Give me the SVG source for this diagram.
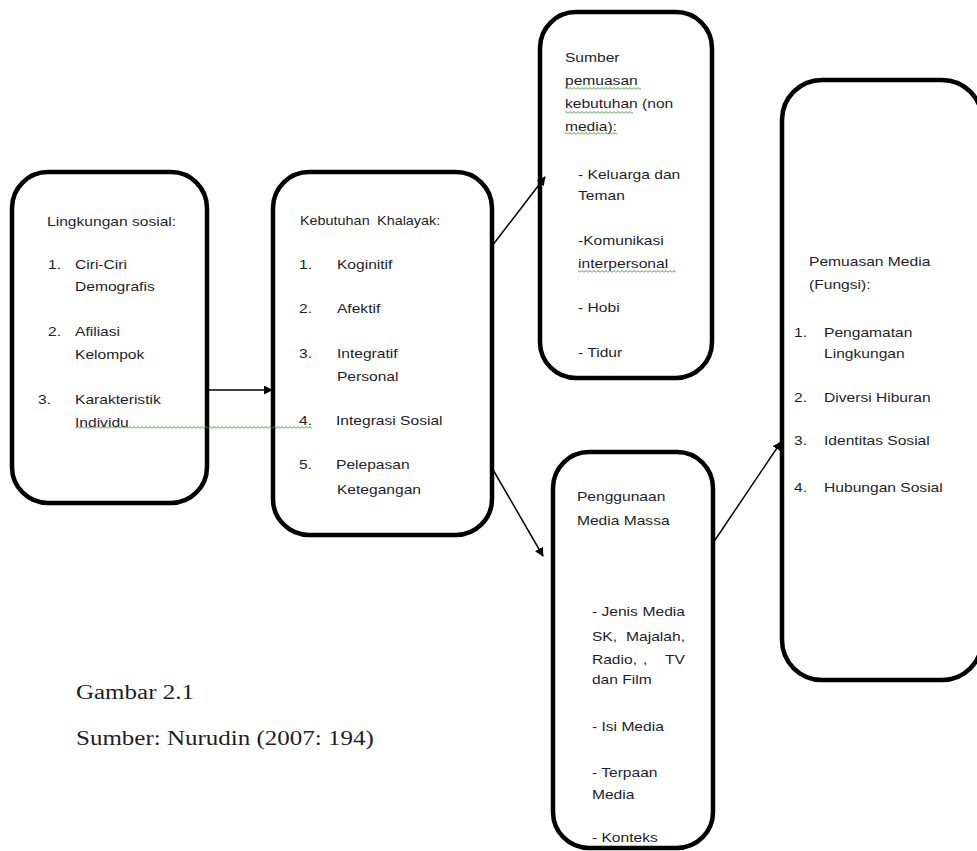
<svg xmlns="http://www.w3.org/2000/svg" width="977" height="851" viewBox="0 0 977 851">
<style>
.box{fill:#fff;stroke:#000;stroke-width:4.5}
.t{font-family:"Liberation Sans",Arial,sans-serif;font-size:13px;fill:#1e1e2a}
.s{font-size:12px}
.e{text-anchor:end}
.cap{font-family:"Liberation Serif","Times New Roman",serif;font-size:20px;fill:#1e1e2a}
.ln{stroke:#000;stroke-width:1.5;fill:none}
</style>
<defs>
<marker id="ah" viewBox="0 0 10 10" refX="9" refY="5" markerWidth="9" markerHeight="9" markerUnits="userSpaceOnUse" orient="auto">
<path d="M0,0 L10,5 L0,10 z" fill="#000"/>
</marker>
<pattern id="zz" x="0" y="0" width="4" height="3" patternUnits="userSpaceOnUse">
<path d="M0,2.5 L2,0.5 L4,2.5" stroke="#3a9a3a" stroke-width="1" fill="none"/>
</pattern>
</defs>
<rect width="977" height="851" fill="#fff"/>
<g id="n1">
<rect class="box" x="12" y="172" width="195" height="331" rx="36"/>
<g transform="scale(1.2,1)">
<text class="t" x="39.2" y="226">Lingkungan sosial:</text>
<text class="t" x="40" y="269">1.</text><text class="t" x="62.5" y="269">Ciri-Ciri</text>
<text class="t" x="62.5" y="291">Demografis</text>
<text class="t" x="40" y="336">2.</text><text class="t" x="62.5" y="336">Afiliasi</text>
<text class="t" x="62.5" y="359">Kelompok</text>
<text class="t" x="31.7" y="404">3.</text><text class="t" x="62.5" y="404">Karakteristik</text>
<text class="t" x="62.5" y="427">Individu</text>
</g>
</g>
<g id="n2">
<rect class="box" x="273" y="172" width="219" height="363" rx="36"/>
<g transform="scale(1.2,1)">
<text class="t s" x="250" y="225">Kebutuhan</text><text class="t s" x="314.2" y="225">Khalayak:</text>
<text class="t" x="249.2" y="269">1.</text><text class="t" x="280.8" y="269">Koginitif</text>
<text class="t" x="249.2" y="313">2.</text><text class="t" x="280.8" y="313">Afektif</text>
<text class="t" x="249.2" y="358">3.</text><text class="t" x="280.8" y="358">Integratif</text>
<text class="t" x="280.8" y="381">Personal</text>
<text class="t" x="249.2" y="425">4.</text><text class="t" x="280" y="425">Integrasi Sosial</text>
<text class="t" x="249.2" y="469">5.</text><text class="t" x="280" y="469">Pelepasan</text>
<text class="t" x="280.8" y="494">Ketegangan</text>
</g>
</g>
<g id="n3">
<rect class="box" x="540" y="12" width="172" height="366" rx="36"/>
<g transform="scale(1.2,1)">
<text class="t" x="470.8" y="62">Sumber</text>
<text class="t" x="470.8" y="85">pemuasan</text>
<text class="t" x="470.8" y="108">kebutuhan (non</text>
<text class="t" x="470.8" y="131">media):</text>
<text class="t" x="481.7" y="179">- Keluarga dan</text>
<text class="t" x="481.7" y="200">Teman</text>
<text class="t" x="481.7" y="245">-Komunikasi</text>
<text class="t" x="481.7" y="268">interpersonal</text>
<text class="t" x="481.7" y="312">- Hobi</text>
<text class="t" x="481.7" y="357">- Tidur</text>
</g>
</g>
<g id="n4">
<rect class="box" x="553" y="452" width="160" height="396" rx="36"/>
<g transform="scale(1.2,1)">
<text class="t" x="480.8" y="501">Penggunaan</text>
<text class="t" x="480.8" y="525">Media Massa</text>
<text class="t" x="493.3" y="616">- Jenis</text><text class="t e" x="570.8" y="616">Media</text>
<text class="t" x="493.3" y="641">SK,</text><text class="t e" x="570.8" y="641">Majalah,</text>
<text class="t" x="493.3" y="664">Radio,</text><text class="t" x="535.8" y="664">,</text><text class="t e" x="570.8" y="664">TV</text>
<text class="t" x="493.3" y="684">dan Film</text>
<text class="t" x="493.3" y="731">- Isi Media</text>
<text class="t" x="493.3" y="777">- Terpaan</text>
<text class="t" x="493.3" y="799">Media</text>
<text class="t" x="493.3" y="842">- Konteks</text>
</g>
</g>
<g id="n5">
<rect class="box" x="782" y="80" width="200" height="600" rx="40"/>
<g transform="scale(1.2,1)">
<text class="t" x="674.2" y="266">Pemuasan Media</text>
<text class="t" x="674.2" y="289">(Fungsi):</text>
<text class="t" x="661.7" y="337">1.</text><text class="t" x="686.7" y="337">Pengamatan</text>
<text class="t" x="686.7" y="358">Lingkungan</text>
<text class="t" x="661.7" y="402">2.</text><text class="t" x="686.7" y="402">Diversi Hiburan</text>
<text class="t" x="661.7" y="445">3.</text><text class="t" x="686.7" y="445">Identitas Sosial</text>
<text class="t" x="661.7" y="492">4.</text><text class="t" x="686.7" y="492">Hubungan Sosial</text>
</g>
</g>
<g id="connectors">
<line class="ln" x1="207" y1="390" x2="272" y2="390" marker-end="url(#ah)"/>
<line class="ln" x1="492" y1="246" x2="545" y2="177" marker-end="url(#ah)"/>
<line class="ln" x1="492" y1="468" x2="543" y2="556" marker-end="url(#ah)"/>
<line class="ln" x1="713" y1="543" x2="781" y2="442" marker-end="url(#ah)"/>
</g>
<g id="squiggles">
<rect x="75" y="426" width="237" height="3" fill="url(#zz)"/>
<rect x="565" y="87" width="76" height="3" fill="url(#zz)"/>
<rect x="565" y="111" width="68" height="3" fill="url(#zz)"/>
<rect x="565" y="132" width="52" height="3" fill="url(#zz)"/>
<rect x="578" y="270" width="98" height="3" fill="url(#zz)"/>
</g>
<g id="caption" transform="scale(1.25,1)">
<text class="cap" x="60.8" y="699">Gambar 2.1</text>
<text class="cap" x="60.8" y="745">Sumber: Nurudin (2007: 194)</text>
</g>
</svg>
